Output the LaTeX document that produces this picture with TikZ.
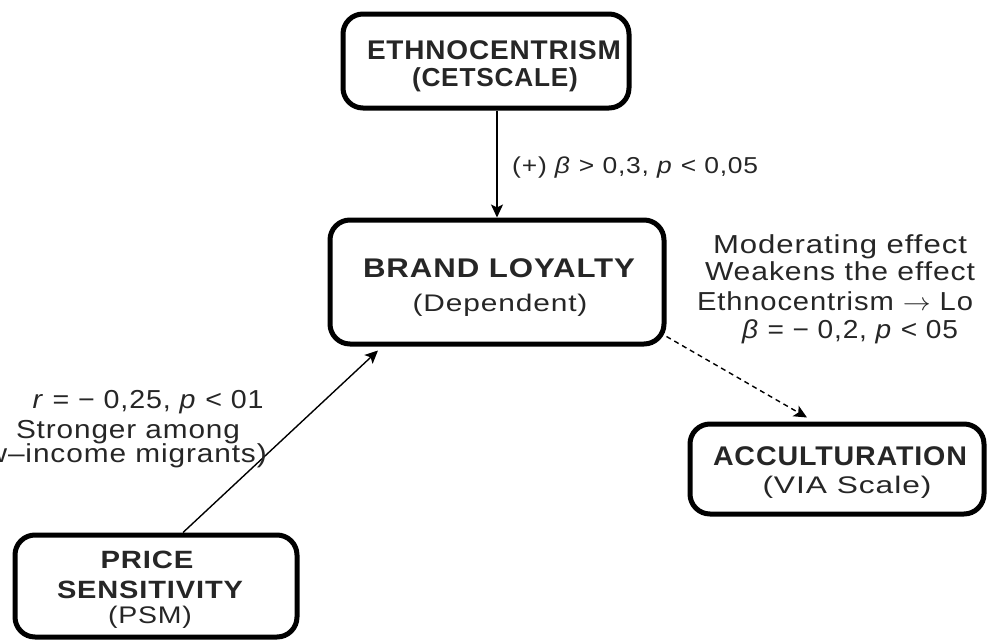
\documentclass[tikz,border=0pt]{standalone}
\usepackage{fontspec}
\setmainfont{Liberation Sans}[LetterSpace=3]
\usepackage{graphicx}
\usetikzlibrary{arrows.meta}

% set a text box and stretch it horizontally to a given width (in pt)
\newsavebox\fitbox
\newcommand\fitto[2]{%
  \sbox\fitbox{#2}%
  \pgfmathsetmacro\fitscale{#1/\the\wd\fitbox}%
  \scalebox{\fitscale}[1]{\usebox\fitbox}}

\tikzset{
  varbox/.style={draw=black, line width=5pt, rounded corners=20pt,
    inner sep=0pt, fill=white},
  txt/.style={anchor=base, inner sep=0pt, text=black!85},
  effect/.style={line width=1.4pt,
    -{Stealth[length=13pt, width=12pt, inset=3pt]}},
  moderation/.style={effect, dash pattern=on 5pt off 4pt},
}

\begin{document}
\begin{tikzpicture}[x=1pt, y=-1pt]
\useasboundingbox (0,0) rectangle (989,643);
\clip (0,0) rectangle (989,643);
\fill[white] (0,0) rectangle (989,643);

% construct boxes
\node[varbox, minimum width=286pt, minimum height=94pt]  (ethno) at (486,61)  {};
\node[varbox, minimum width=334pt, minimum height=124pt] (brand) at (497,282) {};
\node[varbox, minimum width=294pt, minimum height=90pt]  (acc)   at (837,469) {};
\node[varbox, minimum width=282pt, minimum height=102pt] (psm)   at (156,586) {};

% box captions
\node[txt, font=\fontsize{27}{32}\selectfont\bfseries] (ethnoA) at (494,59) {\fitto{254}{ETHNOCENTRISM}};
\node[txt, font=\fontsize{26}{31}\selectfont\bfseries] (ethnoB) at (495,86) {\fitto{166}{(CETSCALE)}};
\node[txt, font=\fontsize{27}{32}\selectfont\bfseries] (brandA) at (499,277) {\fitto{272}{BRAND LOYALTY}};
\node[txt, font=\fontsize{24}{29}\selectfont] (brandB) at (500,311) {\fitto{175}{(Dependent)}};
\node[txt, font=\fontsize{27}{32}\selectfont\bfseries] (accA) at (840,465) {\fitto{254}{ACCULTURATION}};
\node[txt, font=\fontsize{24}{29}\selectfont] (accB) at (847,493) {\fitto{169}{(VIA Scale)}};
\node[txt, font=\fontsize{25}{30}\selectfont\bfseries] (psmA) at (147,568) {\fitto{93}{PRICE}};
\node[txt, font=\fontsize{25}{30}\selectfont\bfseries] (psmB) at (150,598) {\fitto{186}{SENSITIVITY}};
\node[txt, font=\fontsize{24}{29}\selectfont] (psmC) at (150,623) {\fitto{84}{(PSM)}};

% paths between constructs
\draw[effect] (ethno.south -| brand.north) -- (brand.north);
\draw[effect] ([xshift=27pt]psm.north) -- ([xshift=-119pt, yshift=-4pt]brand.south);
\draw[moderation] ([yshift=10pt]brand.south east) -- ([xshift=-30pt, yshift=4pt]acc.north);

% path coefficients and notes
\node[txt, anchor=base west, font=\fontsize{23}{27}\selectfont] (coefE) at (512,173)
  {\fitto{246}{(+) \textit{β} > 0,3, \textit{p} < 0,05}};

\node[txt, font=\fontsize{26}{31}\selectfont] (modA) at (840,253) {\fitto{254}{Moderating effect}};
\node[txt, font=\fontsize{26}{31}\selectfont] (modB) at (840,280) {\fitto{270}{Weakens the effect}};
\node[txt, font=\fontsize{26}{31}\selectfont] (modC) at (835,310) {\fitto{276}{Ethnocentrism $\rightarrow$ Lo}};
\node[txt, font=\fontsize{26}{31}\selectfont] (modD) at (850,338) {\fitto{216}{\textit{β} = − 0,2, \textit{p} < 05}};

\node[txt, font=\fontsize{26}{31}\selectfont] (priceA) at (148,408) {\fitto{231}{\textit{r} = − 0,25, \textit{p} < 01}};
\node[txt, font=\fontsize{26}{31}\selectfont] (priceB) at (128,438) {\fitto{224}{Stronger among}};
\node[txt, anchor=base east, font=\fontsize{26}{31}\selectfont] (priceC) at (267,462) {\fitto{317}{(low–income migrants)}};
\end{tikzpicture}
\end{document}
